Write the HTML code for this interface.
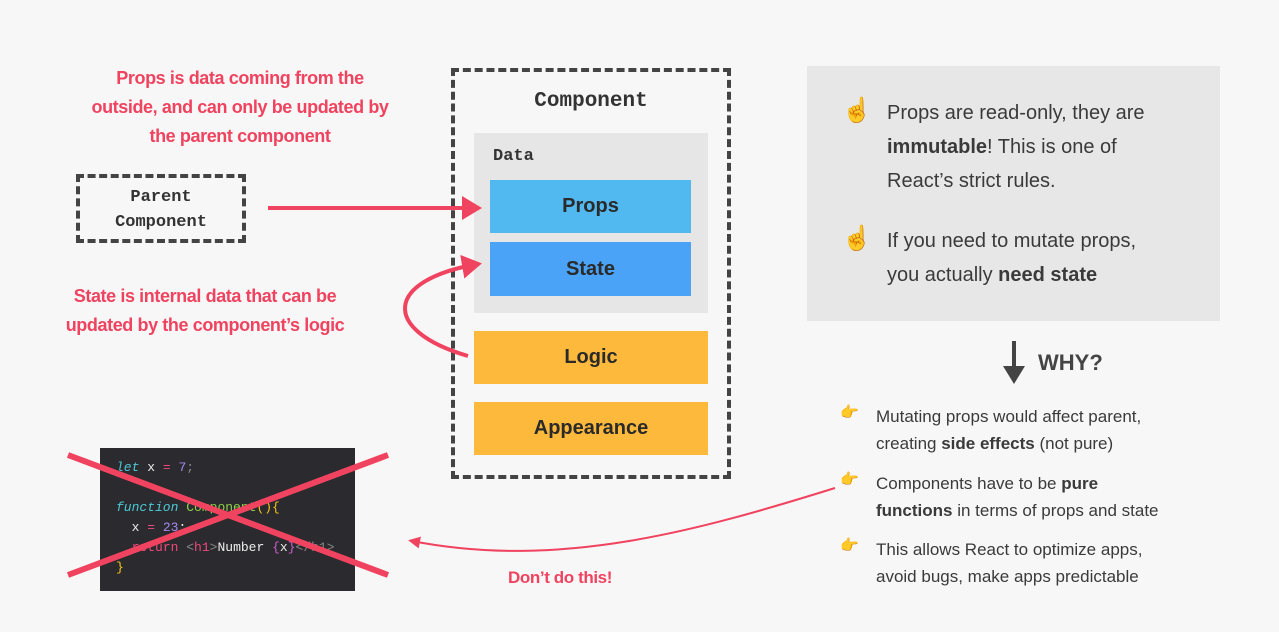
<!DOCTYPE html>
<html><head><meta charset="utf-8"><style>
body{margin:0;width:1279px;height:632px;background:#f7f7f7;position:relative;overflow:hidden;font-family:"Liberation Sans",sans-serif;color:#444}
.a{position:absolute}
.red{color:#f0435f;font-weight:bold;font-size:18px;text-align:center;line-height:29px;letter-spacing:-0.4px}
.mono{font-family:"Liberation Mono",monospace;font-weight:bold;color:#333}
.bx{position:absolute;display:flex;align-items:center;justify-content:center;font-size:20px;color:#2a2a2a;font-weight:bold}
.rt{font-size:20px;line-height:34px;color:#3a3a3a}
.bl{font-size:17px;line-height:27px;color:#3a3a3a}
.code{font-family:"Liberation Mono",monospace;font-size:13px;line-height:20px;white-space:pre}
</style></head><body>
<div class="a red" style="left:40px;top:64px;width:400px">Props is data coming from the<br><span style="font-weight:900">outside</span>, and can <span style="font-weight:900">only</span> be updated by<br>the <span style="font-weight:900">parent component</span></div>
<div class="a" style="left:76px;top:174px;width:162px;height:61px;border:4px dashed #444"></div>
<div class="a mono" style="left:76px;top:185px;width:170px;text-align:center;font-size:17px;line-height:25px">Parent<br>Component</div>
<div class="a" style="left:451px;top:68px;width:272px;height:403px;border:4px dashed #444"></div>
<div class="a mono" style="left:451px;top:90px;width:280px;text-align:center;font-size:21px">Component</div>
<div class="a" style="left:474px;top:133px;width:234px;height:180px;background:#e6e6e6"></div>
<div class="a mono" style="left:493px;top:147px;font-size:17px">Data</div>
<div class="bx" style="left:490px;top:180px;width:201px;height:53px;background:#52b9f0">Props</div>
<div class="bx" style="left:490px;top:242px;width:201px;height:54px;background:#4aa3f7">State</div>
<div class="bx" style="left:474px;top:331px;width:234px;height:53px;background:#fdb93b">Logic</div>
<div class="bx" style="left:474px;top:402px;width:234px;height:53px;background:#fdb93b">Appearance</div>
<div class="a red" style="left:20px;top:282px;width:370px">State is internal data that can be<br>updated by the <span style="font-weight:900">component’s</span> logic</div>
<div class="a" style="left:807px;top:66px;width:413px;height:255px;background:#e7e7e7"></div>
<div class="a" style="left:842px;top:96px;font-size:24px">☝️</div>
<div class="a rt" style="left:887px;top:96px">Props are read-only, they are<br><b>immutable</b>! This is one of<br>React’s strict rules.</div>
<div class="a" style="left:842px;top:224px;font-size:24px">☝️</div>
<div class="a rt" style="left:887px;top:224px">If you need to mutate props,<br>you actually <b>need state</b></div>
<div class="a" style="left:1038px;top:350px;font-size:22px;font-weight:bold;color:#444">WHY?</div>
<div class="a" style="left:840px;top:403px;font-size:15px">👉</div>
<div class="a bl" style="left:876px;top:403px">Mutating props would affect parent,<br>creating <b>side effects</b> (not pure)</div>
<div class="a" style="left:840px;top:470px;font-size:15px">👉</div>
<div class="a bl" style="left:876px;top:470px">Components have to be <b>pure<br>functions</b> in terms of props and state</div>
<div class="a" style="left:840px;top:536px;font-size:15px">👉</div>
<div class="a bl" style="left:876px;top:536px">This allows React to optimize apps,<br>avoid bugs, make apps predictable</div>
<div class="a" style="left:100px;top:448px;width:255px;height:143px;background:#2b2a2e"></div>
<div class="a code" style="left:116px;top:458px;color:#eee"><i style="color:#4cc9d6">let</i> x <span style="color:#f0487a">=</span> <span style="color:#a58bf0">7</span><span style="color:#888">;</span>

<i style="color:#4cc9d6">function</i> <span style="color:#8fcf4a">Component</span><span style="color:#f5c518">(){</span>
  x <span style="color:#f0487a">=</span> <span style="color:#a58bf0">23</span>;
  <span style="color:#f0487a">return</span> <span style="color:#888">&lt;</span><span style="color:#f0487a">h1</span><span style="color:#888">&gt;</span>Number <span style="color:#d05cd0">{</span>x<span style="color:#d05cd0">}</span><span style="color:#888">&lt;/h1&gt;</span>
<span style="color:#f5c518">}</span></div>
<div class="a red" style="left:470px;top:563px;width:180px;font-size:17px">Don’t do this!</div>
<svg class="a" style="left:0;top:0" width="1279" height="632">
<defs><marker id="m" markerWidth="6" markerHeight="6" refX="4" refY="3" orient="auto" markerUnits="strokeWidth"><path d="M0,0 L5,3 L0,6 z" fill="#f0435f"/></marker>
<marker id="m2" markerWidth="6" markerHeight="6" refX="4" refY="3" orient="auto"><path d="M0,0 L6,3 L0,6 z" fill="#f0435f"/></marker></defs>
<line x1="268" y1="208" x2="478" y2="208" stroke="#f0435f" stroke-width="4" marker-end="url(#m)"/>
<path d="M468,356 C380,330 385,280 478,264" fill="none" stroke="#f0435f" stroke-width="4" marker-end="url(#m)"/>
<path d="M835,488 C700,530 560,570 412,541" fill="none" stroke="#f0435f" stroke-width="2" marker-end="url(#m2)"/>
<line x1="68" y1="455" x2="388" y2="575" stroke="#f0435f" stroke-width="6"/>
<line x1="68" y1="575" x2="388" y2="455" stroke="#f0435f" stroke-width="6"/>
<line x1="1014" y1="341" x2="1014" y2="370" stroke="#444" stroke-width="4"/>
<path d="M1003,366 L1025,366 L1014,384 z" fill="#444"/>
</svg>
</body></html>
